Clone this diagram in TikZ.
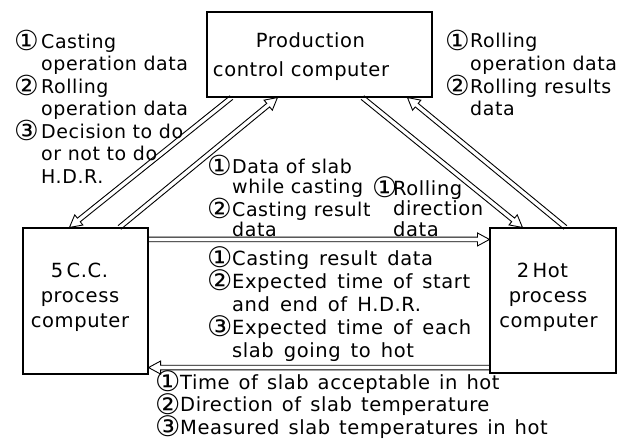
\documentclass[tikz,border=0pt]{standalone}
\usepackage{fontspec}
\usepackage{graphicx}
\setmainfont[LetterSpace=3]{DejaVu Sans}
\usetikzlibrary{calc}
\newcommand\circnum[1]{\raisebox{-2.8pt}{\scalebox{1.45}{#1}}}
\newcommand\cn[2][25pt]{\makebox[#1][l]{\circnum{#2}}}
\newcommand\ind[1][25pt]{\hspace*{#1}}
\newcommand\widespaces[1]{\spaceskip=#1\relax}
\newcommand\hollowarrow[2]{%
  \path (#1) coordinate (ha-s) (#2) coordinate (ha-e);
  \path ($(ha-e)!12pt!(ha-s)$) coordinate (ha-b);
  \draw[arrowline] ($(ha-s)!2.3pt!90:(ha-e)$) -- ($(ha-b)!2.3pt!-90:(ha-s)$)
    -- ($(ha-b)!6.5pt!-90:(ha-s)$) -- (ha-e) -- ($(ha-b)!6.5pt!90:(ha-s)$)
    -- ($(ha-b)!2.3pt!90:(ha-s)$) -- ($(ha-s)!2.3pt!-90:(ha-e)$);
}
\tikzset{
  box/.style={draw, line width=1.1pt, inner sep=0pt},
  boxtext/.style={inner sep=0pt, anchor=base, font=\fontsize{19.5}{25}\selectfont},
  lbl/.style={inner sep=0pt, align=left, anchor=base west,
    font=\fontsize{19.5}{22.5}\selectfont},
  arrowline/.style={line width=0.9pt, line join=miter},
}
\begin{document}
\begin{tikzpicture}[x=1pt,y=-1pt]
\useasboundingbox (0,0) rectangle (628,441);
% boxes
\node[box, minimum width=225pt, minimum height=85pt] (pc) at (319.5,54.5) {};
\node[box, minimum width=125pt, minimum height=146pt] (cc) at (85.5,301) {};
\node[box, minimum width=126pt, minimum height=145pt] (hot) at (553,300.5) {};
% box texts
\node[boxtext] (pc1) at (310.5,48) {Production};
\node[boxtext] (pc2) at (301,77) {control computer};
\node[boxtext] (cc1) at (79.5,277) {5\,C.C.};
\node[boxtext] (cc2) at (80,302) {process};
\node[boxtext] (cc3) at (80,327) {computer};
\node[boxtext] (hot1) at (542.5,277) {2\,Hot};
\node[boxtext] (hot2) at (548,302) {process};
\node[boxtext] (hot3) at (548.5,327) {computer};
% arrows
\hollowarrow{$(pc.south west)+(25,0)$}{$(cc.north west)+(47,0)$}
\hollowarrow{$(cc.north west)+(97,0)$}{$(pc.south west)+(71,0)$}
\hollowarrow{$(pc.south west)+(156,0)$}{$(hot.north west)+(33,0)$}
\hollowarrow{$(hot.north west)+(76,0)$}{$(pc.south west)+(201,0)$}
\hollowarrow{$(cc.north east)+(0,12)$}{$(hot.north west)+(0,12)$}
\hollowarrow{$(hot.south west)+(0,-6)$}{$(cc.south east)+(0,-7)$}
% labels (anchored on the baseline of their last line)
\node[lbl, font=\fontsize{19}{22.5}\selectfont] (lab1) at (14,183)
  {\cn[27pt]{①}Casting\\\ind[27pt]operation data\\
  \cn[27pt]{②}Rolling\\\ind[27pt]operation data\\\cn[27pt]{③}Decision to do\\
  \ind[27pt]or not to do\\\ind[27pt]H.D.R.};
\node[lbl, font=\fontsize{19}{22.5}\selectfont] (lab2) at (445,115.5)
  {\cn{①}Rolling\\\ind operation data\\
  \cn{②}Rolling results\\\ind data};
\node[lbl, font=\fontsize{19}{20.5}\selectfont] (lab3) at (207,236.5)
  {\cn{①}Data of slab\\\ind while casting\\\cn{②}Casting result\\\ind data};
\node[lbl, font=\fontsize{19.5}{20.5}\selectfont] (lab4) at (372,236)
  {\cn[21pt]{①}Rolling\\\ind[21pt]direction\\\ind[21pt]data};
\node[lbl, font={\fontsize{19.5}{23}\selectfont\widespaces{10pt}}] (lab5) at (207,357)
  {\cn{①}Casting result data\\\cn{②}Expected time of start\\
  \ind and end of H.D.R.\\\cn{③}Expected time of each\\\ind slab going to hot};
\node[lbl, font={\fontsize{19.5}{22.5}\selectfont\widespaces{9pt}}] (lab6) at (155,434)
  {\cn{①}Time of slab acceptable in hot\\\cn{②}Direction of slab temperature\\
  \cn{③}Measured slab temperatures in hot};
\end{tikzpicture}
\end{document}
